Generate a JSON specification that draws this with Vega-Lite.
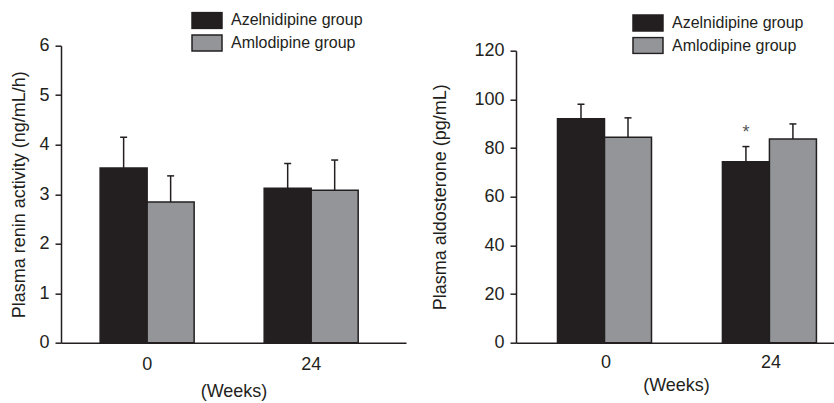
{
  "$schema": "https://vega.github.io/schema/vega-lite/v6.json",
  "padding": {"left": 9, "top": 10.7, "right": 0, "bottom": 0},
  "spacing": 25,
  "resolve": {"scale": {"fill": "independent"}, "legend": {"fill": "independent"}},
  "datasets": {
    "renin": [
      {"week": "0", "group": "Azelnidipine group", "mean": 3.53, "upper": 4.15, "sig": ""},
      {"week": "0", "group": "Amlodipine group", "mean": 2.84, "upper": 3.37, "sig": ""},
      {"week": "24", "group": "Azelnidipine group", "mean": 3.12, "upper": 3.62, "sig": ""},
      {"week": "24", "group": "Amlodipine group", "mean": 3.08, "upper": 3.69, "sig": ""}
    ],
    "aldo": [
      {"week": "0", "group": "Azelnidipine group", "mean": 92.0, "upper": 98.0, "sig": ""},
      {"week": "0", "group": "Amlodipine group", "mean": 84.4, "upper": 92.4, "sig": ""},
      {"week": "24", "group": "Azelnidipine group", "mean": 74.4, "upper": 80.6, "sig": "*"},
      {"week": "24", "group": "Amlodipine group", "mean": 83.7, "upper": 89.9, "sig": ""}
    ]
  },
  "config": {
    "font": "Liberation Sans",
    "view": {"stroke": null},
    "axis": {
      "grid": false,
      "domainColor": "#231f20",
      "domainWidth": 1.5,
      "tickColor": "#231f20",
      "tickWidth": 1.5,
      "labelColor": "#231f20",
      "titleColor": "#231f20",
      "labelFont": "Liberation Sans",
      "titleFont": "Liberation Sans",
      "labelFontSize": 18,
      "titleFontSize": 18,
      "titleFontWeight": "normal"
    },
    "legend": {
      "labelFont": "Liberation Sans",
      "labelFontSize": 16,
      "labelColor": "#231f20"
    }
  },
  "hconcat": [
    {
      "width": 345,
      "height": 297,
      "data": {"name": "renin"},
      "encoding": {
        "x": {
          "field": "week", "type": "nominal", "sort": ["0", "24"],
          "scale": {"paddingInner": 0.427, "paddingOuter": 0.265, "align": 0.45},
          "axis": {"title": "(Weeks)", "labelAngle": 0, "ticks": false, "tickSize": 0, "labelPadding": 13, "titlePadding": 9}
        },
        "xOffset": {"field": "group", "type": "nominal", "sort": ["Azelnidipine group", "Amlodipine group"], "scale": {"paddingInner": 0, "paddingOuter": 0}}
      },
      "layer": [
        {
          "mark": {"type": "bar", "stroke": "#231f20", "strokeWidth": 1.5},
          "encoding": {
            "y": {
              "field": "mean", "type": "quantitative",
              "scale": {"domain": [0, 6], "nice": false},
              "axis": {
                "title": "Plasma renin activity (ng/mL/h)",
                "values": [0, 0.5, 1, 1.5, 2, 2.5, 3, 3.5, 4, 4.5, 5, 5.5, 6],
                "labelExpr": "datum.value % 1 === 0 ? datum.label : ''",
                "tickSize": {"condition": {"test": "datum.value % 1 !== 0", "value": 3}, "value": 6},
                "labelPadding": 6,
                "titlePadding": 11
              }
            },
            "fill": {
              "field": "group", "type": "nominal",
              "scale": {"domain": ["Azelnidipine group", "Amlodipine group"], "range": ["#231f20", "#939598"]},
              "legend": {
                "title": null, "orient": "none", "legendX": 130, "legendY": -34.3,
                "padding": 0,
                "symbolType": "M-1,-0.533H1V0.533H-1Z", "symbolSize": 900,
                "symbolStrokeColor": "#231f20", "symbolStrokeWidth": 1.5,
                "clipHeight": 18,
                "labelOffset": 8, "rowPadding": 4.6
              }
            }
          }
        },
        {
          "mark": {"type": "rule", "color": "#231f20", "strokeWidth": 1.5},
          "encoding": {"y": {"field": "mean", "type": "quantitative"}, "y2": {"field": "upper"}}
        },
        {
          "mark": {"type": "tick", "orient": "horizontal", "size": 7, "thickness": 1.5, "color": "#231f20", "opacity": 1},
          "encoding": {"y": {"field": "upper", "type": "quantitative"}}
        }
      ]
    },
    {
      "width": 318,
      "height": 297,
      "data": {"name": "aldo"},
      "encoding": {
        "x": {
          "field": "week", "type": "nominal", "sort": ["0", "24"],
          "scale": {"paddingInner": 0.412, "paddingOuter": 0.17, "align": 0.74},
          "axis": {"title": "(Weeks)", "labelAngle": 0, "ticks": false, "tickSize": 0, "labelPadding": 11, "titlePadding": 5, "titleX": 160}
        },
        "xOffset": {"field": "group", "type": "nominal", "sort": ["Azelnidipine group", "Amlodipine group"], "scale": {"paddingInner": 0, "paddingOuter": 0}}
      },
      "layer": [
        {
          "mark": {"type": "bar", "stroke": "#231f20", "strokeWidth": 1.5},
          "encoding": {
            "y": {
              "field": "mean", "type": "quantitative",
              "scale": {"domain": [0, 120], "nice": false, "range": [297, 5]},
              "axis": {
                "title": "Plasma aldosterone (pg/mL)",
                "values": [0, 10, 20, 30, 40, 50, 60, 70, 80, 90, 100, 110, 120],
                "labelExpr": "datum.value % 20 === 0 ? datum.label : ''",
                "tickSize": {"condition": {"test": "datum.value % 20 !== 0", "value": 3}, "value": 6},
                "labelPadding": 6,
                "titlePadding": 24
              }
            },
            "fill": {
              "field": "group", "type": "nominal",
              "scale": {"domain": ["Azelnidipine group", "Amlodipine group"], "range": ["#231f20", "#939598"]},
              "legend": {
                "title": null, "orient": "none", "legendX": 116, "legendY": -31.7,
                "padding": 0,
                "symbolType": "M-1,-0.533H1V0.533H-1Z", "symbolSize": 900,
                "symbolStrokeColor": "#231f20", "symbolStrokeWidth": 1.5,
                "clipHeight": 18,
                "labelOffset": 8, "rowPadding": 4.6
              }
            }
          }
        },
        {
          "mark": {"type": "rule", "color": "#231f20", "strokeWidth": 1.5},
          "encoding": {"y": {"field": "mean", "type": "quantitative"}, "y2": {"field": "upper"}}
        },
        {
          "mark": {"type": "tick", "orient": "horizontal", "size": 7, "thickness": 1.5, "color": "#231f20", "opacity": 1},
          "encoding": {"y": {"field": "upper", "type": "quantitative"}}
        },
        {
          "mark": {"type": "text", "fontSize": 18, "color": "#555555", "baseline": "alphabetic", "dy": -9},
          "encoding": {"y": {"field": "upper", "type": "quantitative"}, "text": {"field": "sig"}}
        }
      ]
    }
  ]
}
